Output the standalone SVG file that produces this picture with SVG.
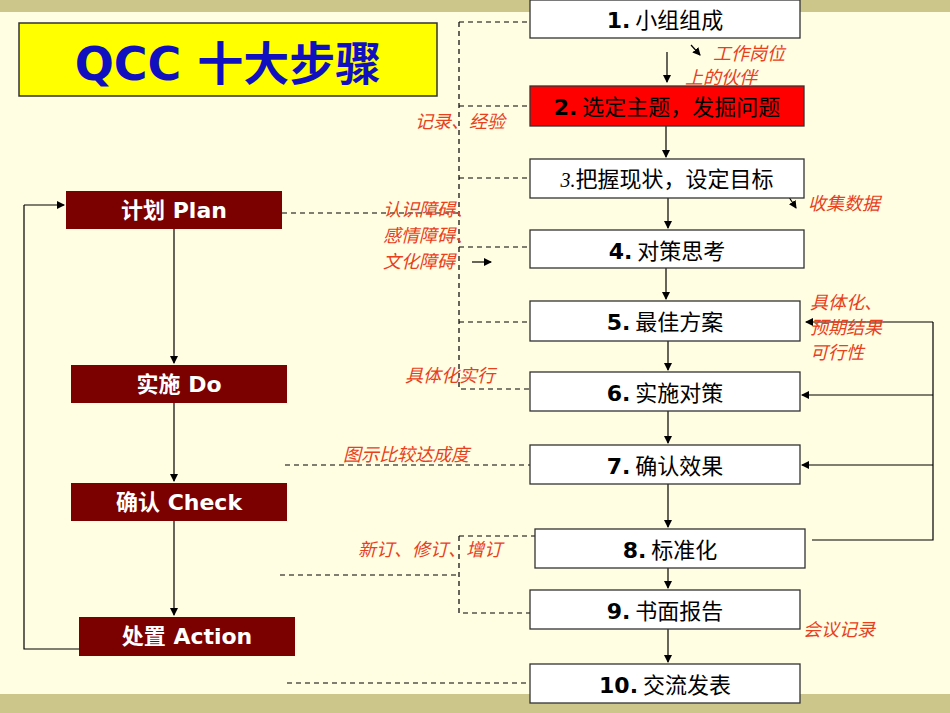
<svg xmlns="http://www.w3.org/2000/svg" width="950" height="713" viewBox="0 0 950 713">
<defs>
<marker id="ah" markerWidth="8" markerHeight="8" refX="7" refY="4" orient="auto" markerUnits="userSpaceOnUse"><path d="M0,0 L8,4 L0,8 Z" fill="#000"/></marker>
<style>
.box{fill:#fff;stroke:#333;stroke-width:1.3}
.bt{font-family:"Noto Sans CJK SC",sans-serif;font-size:22px;fill:#000;text-anchor:middle}
.lb{fill:#7B0000}
.lt{font-family:"DejaVu Sans","Noto Sans CJK SC",sans-serif;font-size:22px;fill:#fff;font-weight:bold;text-anchor:middle}
.red{font-family:"Noto Sans CJK SC",sans-serif;font-size:18px;fill:#E8401C;font-style:italic}
.dash{stroke:#000;stroke-width:1.2;stroke-dasharray:5,4;fill:none}
.ln{stroke:#000;stroke-width:1.2;fill:none}
</style>
</defs>
<rect width="950" height="713" fill="#FFFDE2"/>
<rect width="950" height="12" fill="#CDC68A"/>
<rect y="694" width="950" height="19" fill="#CDC68A"/>
<g id="title"><rect x="19" y="23" width="418" height="73" fill="#FFFF00" stroke="#333" stroke-width="1.5"/>
<text x="228" y="80" font-family="DejaVu Sans,'Noto Sans CJK SC',sans-serif" font-size="46" font-weight="bold" fill="#1010C0" text-anchor="middle">QCC 十大步骤</text></g>
<g id="connectors">
<path class="dash" d="M459,22 H530 M459,22 V389 H530 M459,106 H530 M459,178 H530 M459,247 H530 M459,322 H530 M282,213 H459 M285,465 H530 M459,536 H535 M459,536 V613 H530 M280,575 H459 M287,683 H530"/>
<path class="ln" marker-end="url(#ah)" d="M667,52 V82"/>
<path class="ln" marker-end="url(#ah)" d="M666,126 V157"/>
<path class="ln" marker-end="url(#ah)" d="M668,198 V228"/>
<path class="ln" marker-end="url(#ah)" d="M666,268 V299"/>
<path class="ln" marker-end="url(#ah)" d="M668,341 V370"/>
<path class="ln" marker-end="url(#ah)" d="M668,411 V443"/>
<path class="ln" marker-end="url(#ah)" d="M668,484 V527"/>
<path class="ln" marker-end="url(#ah)" d="M668,568 V588"/>
<path class="ln" marker-end="url(#ah)" d="M668,629 V662"/>
<path class="ln" d="M812,540 H933 V322"/>
<path class="ln" marker-end="url(#ah)" d="M933,322 H806"/>
<path class="ln" marker-end="url(#ah)" d="M933,395 H802"/>
<path class="ln" marker-end="url(#ah)" d="M933,465 H802"/>
<path class="ln" stroke-width="2" marker-end="url(#ah)" d="M174,229 V363"/>
<path class="ln" stroke-width="2" marker-end="url(#ah)" d="M174,403 V481"/>
<path class="ln" stroke-width="2" marker-end="url(#ah)" d="M174,521 V615"/>
<path class="ln" d="M79,649 H24 V205"/>
<path class="ln" marker-end="url(#ah)" d="M24,205 H64"/>
<path class="ln" marker-end="url(#ah)" d="M691,45 L700,55"/>
<path class="ln" marker-end="url(#ah)" d="M787,194 L796,208"/>
<path class="ln" stroke-width="1.8" marker-end="url(#ah)" d="M472,262 H491"/>
</g>
<g id="s1"><rect class="box" x="530" y="0" width="270" height="38"/><text class="bt" x="665" y="28"><tspan font-family="DejaVu Sans" font-weight="bold">1.</tspan> 小组组成</text></g>
<g id="s2"><rect x="530" y="86" width="274" height="40" fill="#FF0000" stroke="#333" stroke-width="1.3"/><text class="bt" x="667" y="115"><tspan font-family="DejaVu Sans" font-weight="bold">2.</tspan> 选定主题，发掘问题</text></g>
<g id="s3"><rect class="box" x="530" y="159" width="274" height="39"/><text class="bt" x="667" y="187"><tspan font-family="Liberation Serif" font-style="italic" font-size="20">3.</tspan>把握现状，设定目标</text></g>
<g id="s4"><rect class="box" x="530" y="230" width="274" height="38"/><text class="bt" x="667" y="259"><tspan font-family="DejaVu Sans" font-weight="bold">4.</tspan> 对策思考</text></g>
<g id="s5"><rect class="box" x="530" y="301" width="270" height="40"/><text class="bt" x="665" y="330"><tspan font-family="DejaVu Sans" font-weight="bold">5.</tspan> 最佳方案</text></g>
<g id="s6"><rect class="box" x="530" y="372" width="270" height="39"/><text class="bt" x="665" y="401"><tspan font-family="DejaVu Sans" font-weight="bold">6.</tspan> 实施对策</text></g>
<g id="s7"><rect class="box" x="530" y="445" width="270" height="39"/><text class="bt" x="665" y="474"><tspan font-family="DejaVu Sans" font-weight="bold">7.</tspan> 确认效果</text></g>
<g id="s8"><rect class="box" x="535" y="529" width="270" height="39"/><text class="bt" x="670" y="558"><tspan font-family="DejaVu Sans" font-weight="bold">8.</tspan> 标准化</text></g>
<g id="s9"><rect class="box" x="530" y="590" width="270" height="39"/><text class="bt" x="665" y="619"><tspan font-family="DejaVu Sans" font-weight="bold">9.</tspan> 书面报告</text></g>
<g id="s10"><rect class="box" x="530" y="664" width="270" height="39"/><text class="bt" x="665" y="693"><tspan font-family="DejaVu Sans" font-weight="bold">10.</tspan> 交流发表</text></g>
<g id="plan"><rect class="lb" x="66" y="191" width="216" height="38"/><text class="lt" x="174" y="218">计划  Plan</text></g>
<g id="do"><rect class="lb" x="71" y="365" width="216" height="38"/><text class="lt" x="179" y="392">实施  Do</text></g>
<g id="check"><rect class="lb" x="71" y="483" width="216" height="38"/><text class="lt" x="179" y="510">确认 Check</text></g>
<g id="action"><rect class="lb" x="79" y="617" width="216" height="39"/><text class="lt" x="187" y="644">处置 Action</text></g>
<g id="labels">
<text class="red" x="713" y="60">工作岗位</text>
<text class="red" x="685" y="84">上的伙伴</text>
<text class="red" x="415" y="128">记录、经验</text>
<text class="red" x="808" y="210">收集数据</text>
<text class="red" x="383" y="216">认识障碍、</text>
<text class="red" x="383" y="242">感情障碍、</text>
<text class="red" x="383" y="268">文化障碍</text>
<text class="red" x="810" y="309">具体化、</text>
<text class="red" x="810" y="334">预期结果</text>
<text class="red" x="810" y="359">可行性</text>
<text class="red" x="405" y="382">具体化实行</text>
<text class="red" x="343" y="461">图示比较达成度</text>
<text class="red" x="358" y="556">新订、修订、增订</text>
<text class="red" x="803" y="636">会议记录</text>
</g>
</svg>
